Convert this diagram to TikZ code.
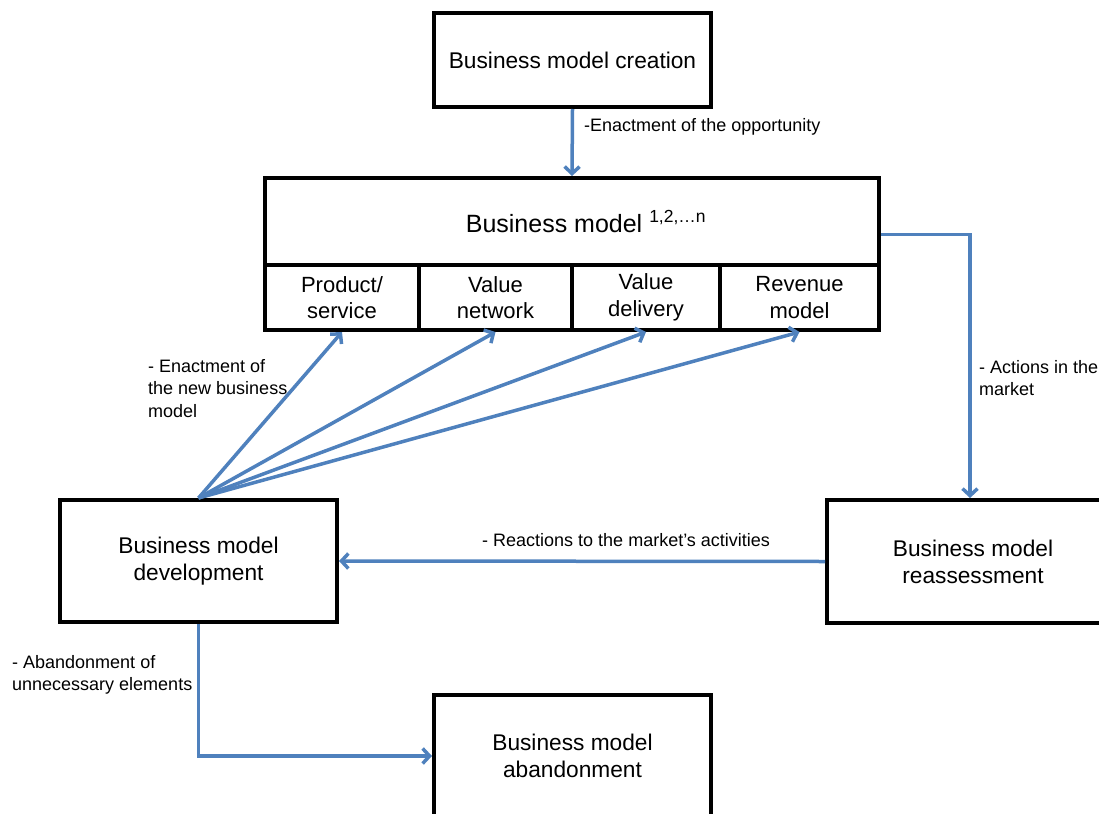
\documentclass[tikz,border=0pt]{standalone}
\usepackage{fontspec}
\setmainfont{Liberation Sans}
\usetikzlibrary{arrows.meta}
\definecolor{flowblue}{RGB}{79,129,189}

\begin{document}
\begin{tikzpicture}[x=1pt,y=-1pt,
    stagebox/.style={draw, line width=4pt, align=center, inner sep=0pt,
        font=\fontsize{22.7}{27}\selectfont},
    partbox/.style={draw, line width=4pt, align=center, inner sep=0pt,
        minimum height=65pt, font=\fontsize{22}{26.5}\selectfont},
    flow/.style={draw=flowblue, line width=3.5pt, -{Straight Barb[length=7pt,width=15pt]}},
    note/.style={inner sep=0pt, align=left, font=\fontsize{18}{22.5}\selectfont}]
    \useasboundingbox (0,0) rectangle (1099,813);

    % stages
    \node[stagebox, minimum width=277pt, minimum height=94pt] (create) at (572.5,60) {Business model creation};
    \node[stagebox, minimum width=614pt, minimum height=87pt, font=\fontsize{25}{30}\selectfont] (bm) at (572,221.5)
        {\hspace*{28pt}Business model \textsuperscript{1,2,\ldots n}};
    \node[stagebox, minimum width=277pt, minimum height=122pt] (develop) at (198.5,561) {Business model\\development};
    \node[stagebox, minimum width=292pt, minimum height=123pt] (reassess) at (973,561.5) {Business model\\reassessment};
    \node[stagebox, minimum width=277pt, minimum height=122pt] (abandon) at (572.5,756) {Business model\\abandonment};

    % parts of the business model
    \node[partbox, minimum width=154pt] (product) at (342,297.5) {Product/\\service};
    \node[partbox, minimum width=153pt] (network) at (495.5,297.5) {Value\\network};
    \node[partbox, minimum width=148pt] (delivery) at (646,297.5) {Value\\delivery};
    \node[partbox, minimum width=159pt] (revenue) at (799.5,297.5) {Revenue\\model};

    % flows
    \draw[flow] (create.south) -- (bm.north);
    \draw[flow] ([yshift=-13pt]bm.east) -| ([xshift=-3pt]reassess.north);
    \draw[flow] (reassess.west) -- (develop.east);
    \draw[flow] (develop.south) |- (abandon.west);
    \foreach \part in {product,network,delivery,revenue}
        \draw[flow] (develop.north) -- (\part.south);

    % labels
    \node[note, anchor=west] (lopp) at (584,127) {-Enactment of the opportunity};
    \node[note, anchor=north west] (lmarket) at (979,360) {- Actions in the\\market};
    \node[note, anchor=north west] (lnew) at (148,359) {- Enactment of\\the new business\\model};
    \node[note, anchor=west] (lreact) at (482,540) {- Reactions to the market's activities};
    \node[note, anchor=north west] (labandon) at (12,655) {- Abandonment of\\unnecessary elements};
\end{tikzpicture}
\end{document}
